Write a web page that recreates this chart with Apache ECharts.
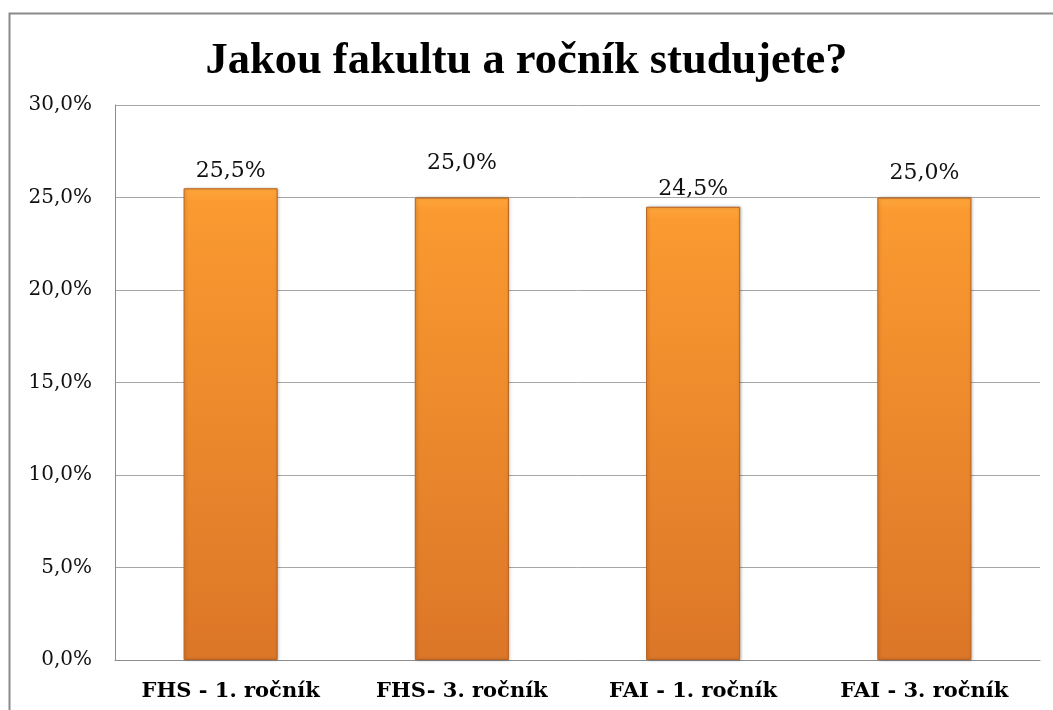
<!DOCTYPE html>
<html><head><meta charset="utf-8">
<script src="https://cdn.jsdelivr.net/npm/echarts@6/dist/echarts.min.js"></script>
<style>html,body{margin:0;padding:0;background:#fff}#c{width:1053px;height:710px}</style>
</head><body><div id="c"></div>
<script>
const categories = ['FHS - 1. ročník', 'FHS- 3. ročník', 'FAI - 1. ročník', 'FAI - 3. ročník'];
const values = [25.5, 25.0, 24.5, 25.0];
const titleText = 'Jakou fakultu a ročník studujete?';
// label placement tweaks (style only, px)
const labelShift = [0, -17, 0, -7];
const fmt = v => v.toFixed(1).replace('.', ',') + '%';
const serif = '"Liberation Serif", "DejaVu Serif", serif';
const wideSerif = '"DejaVu Serif", "Liberation Serif", serif';
const chart = echarts.init(document.getElementById('c'));
chart.setOption({
  animation: false,
  title: {text: titleText, left: 'center', top: 34,
    textStyle: {fontFamily: serif, fontWeight: 'bold', fontSize: 44.5, color: '#000'}},
  graphic: [{type: 'rect', shape: {x: 9.5, y: 13.5, width: 1100, height: 800},
    style: {fill: 'none', stroke: '#8a8a8a', lineWidth: 2}, silent: true}],
  grid: {left: 115, right: 13, top: 105, bottom: 50},
  xAxis: {type: 'category', data: categories,
    axisLine: {lineStyle: {color: '#8c8c8c'}}, axisTick: {show: false},
    axisLabel: {interval: 0, hideOverlap: false, fontFamily: wideSerif, fontWeight: 'bold', fontSize: 21, color: '#000', margin: 21}},
  yAxis: {type: 'value', min: 0, max: 30, interval: 5,
    axisLine: {show: true, lineStyle: {color: '#8c8c8c'}}, axisTick: {show: false},
    splitLine: {lineStyle: {color: '#a6a6a6'}},
    axisLabel: {fontFamily: wideSerif, fontSize: 20, color: '#111', margin: 23, formatter: fmt}},
  series: [{type: 'bar',
    data: values.map((v, i) => ({value: v, label: {offset: [0, labelShift[i]]}})),
    barWidth: '40.7%',
    itemStyle: {
      color: new echarts.graphic.LinearGradient(0, 0, 0, 1, [
        {offset: 0, color: '#FFA63A'}, {offset: 0.03, color: '#FA9A30'},
        {offset: 1, color: '#DC7628'}]),
      borderColor: '#B86320', borderWidth: 1,
      shadowColor: 'rgba(0,0,0,0.25)', shadowBlur: 3, shadowOffsetX: 1},
    label: {show: true, position: 'top', distance: 6, fontFamily: wideSerif, fontSize: 22,
      color: '#111', formatter: p => fmt(p.value)}}]
});
</script></body></html>
